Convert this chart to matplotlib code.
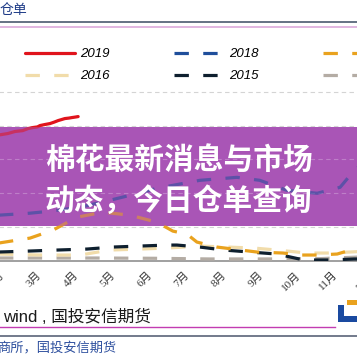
import matplotlib.pyplot as plt
from matplotlib.patches import Rectangle
from matplotlib.lines import Line2D
from matplotlib.transforms import blended_transform_factory

plt.rcParams['font.family'] = ['Liberation Sans', 'Noto Sans CJK SC', 'DejaVu Sans']

# month positions (1 = start of Jan) and receipt counts
m2019 = [1.80, 2.05, 2.24, 2.45, 2.60, 2.73, 2.85, 2.92, 3.05, 3.19, 3.30, 3.41, 3.50, 3.59, 3.70, 3.78, 3.87, 3.95]
v2019 = [18600, 18820, 19118, 19250, 19560, 19706, 19800, 20000, 20150, 20294, 20500, 20735, 20880, 21029, 21100, 21176, 21250, 21324]

m2018 = [1.80, 2.65, 3.19, 4.00, 4.81, 5.50, 6.08, 7.24, 8.24, 8.86, 9.59, 10.41, 11.03, 11.30, 11.55]
v2018 = [6765, 7059, 7353, 7941, 8971, 9900, 10735, 11912, 12353, 11912, 10441, 10000, 10882, 12647, 14000]

m2017 = [1.80, 2.65, 3.27, 3.92, 4.62, 5.35, 6.08, 6.51, 6.89, 7.16, 7.70, 8.14, 8.78, 9.49, 9.95, 10.41, 10.95, 11.41, 11.55]
v2017 = [2647, 3382, 4559, 6471, 7206, 6765, 5735, 4412, 3971, 2794, 2059, 1765, 1324, 1176, 882, 882, 1029, 1765, 2000]

m2016 = [1.80, 2.92, 4.00, 4.81, 5.62, 6.35, 7.24, 7.97, 8.70, 9.32, 10.14, 10.68, 11.30, 11.55]
v2016 = [1029, 882, 882, 1618, 1765, 1912, 2206, 2059, 1912, 1618, 1176, 1176, 1324, 1400]

m2015 = [1.80, 2.65, 3.38, 4.19, 4.89, 5.62, 6.35, 6.62, 7.24, 7.89, 8.59, 9.32, 10.05, 10.76, 11.41, 11.55]
v2015 = [1324, 1471, 1618, 1765, 2059, 2206, 2353, 2353, 2059, 1618, 1324, 1029, 147, 147, 294, 294]

m2014 = [1.80, 3.00, 4.50, 6.00, 7.50, 9.00, 10.50, 11.55]
v2014 = [440, 440, 440, 400, 300, 300, 350, 590]

months = list(range(2, 13))
month_labels = [f'{m}月' for m in months]
grid_values = [0, 5000, 10000, 15000, 20000, 25000]

series = [
    ('2014', m2014, v2014, '#b4aca4', 'dash'),
    ('2016', m2016, v2016, '#f1dcaa', 'dash'),
    ('2015', m2015, v2015, '#0e1f2e', 'dash'),
    ('2017', m2017, v2017, '#e9a21e', 'dash'),
    ('2018', m2018, v2018, '#1f4e9b', 'dash'),
    ('2019', m2019, v2019, '#e0141c', 'solid'),
]

S = 357.0


def fx(px):
    return px / S


def fy(py):
    return 1 - py / S


fig = plt.figure(figsize=(3.57, 3.57), dpi=100)

# axes reach past the left and right edges of the picture (Jan 1 .. mid Dec)
x_left, x_right = -31, 394.5
ax = fig.add_axes([fx(x_left), fy(261), fx(x_right - x_left), fy(91) - fy(261)])
ax.set_xlim(1, 12.5)
ax.set_ylim(0, 25100)
ax.set_facecolor('none')
for s in ['top', 'right', 'left']:
    ax.spines[s].set_visible(False)
ax.spines['bottom'].set_color('#a0a0a0')
ax.spines['bottom'].set_linewidth(1.4)
ax.set_yticks(grid_values)
ax.set_yticklabels([])
ax.tick_params(axis='y', length=0)
ax.grid(axis='y', color='#d4d4d4', linewidth=0.8, dashes=(4, 3))
ax.set_xticks(months)
ax.set_xticklabels(month_labels, rotation=45, ha='right',
                   family=['Liberation Serif', 'Noto Sans CJK SC'], fontsize=8, color='#333333')
ax.tick_params(axis='x', length=0, pad=6)

handles = {}
for name, m, v, col, style in series:
    if style == 'solid':
        ln, = ax.plot(m, v, color=col, linewidth=2.3, zorder=3, solid_capstyle='round')
    else:
        ln, = ax.plot(m, v, color=col, linewidth=2.3, dashes=(4.5, 4.5), zorder=3)
    handles[name] = ln

# purple banner laid over the plot
btrans = blended_transform_factory(ax.transAxes, fig.transFigure)
banner = Rectangle((0, fy(226)), 1, fy(127) - fy(226), transform=btrans,
                   facecolor='#a955b6', edgecolor='none', zorder=5)
ax.add_patch(banner)

# lines showing faintly through the banner
for gv in grid_values:
    g = ax.axhline(gv, color='#ffffff', linewidth=0.8, dashes=(4, 3), alpha=0.25, zorder=6)
    g.set_clip_path(banner)
for name, m, v, col, style in series:
    if style == 'solid':
        ln, = ax.plot(m, v, color=col, linewidth=2.3, alpha=0.55, zorder=6)
    else:
        ln, = ax.plot(m, v, color=col, linewidth=2.3, dashes=(4.5, 4.5), alpha=0.55, zorder=6)
    ln.set_clip_path(banner)

fig.text(fx(45), fy(160), '棉花最新消息与市场', color='white', fontsize=21.4, fontweight='bold',
         family='Noto Sans CJK SC', va='center', ha='left')
fig.text(fx(45), fy(201), '动态，今日仓单查询', color='white', fontsize=21.4, fontweight='bold',
         family='Noto Sans CJK SC', va='center', ha='left')

# legend: rows 2019/2018/2017 and 2016/2015/2014
order = ['2019', '2016', '2018', '2015', '2017', '2014']
fig.legend([handles[k] for k in order], order, ncol=3, loc='upper left',
           bbox_to_anchor=(fx(25), fy(48)), frameon=False, borderpad=0, borderaxespad=0,
           handlelength=3.76, handletextpad=0.4, columnspacing=4.9, labelspacing=0.75,
           prop={'family': 'Liberation Sans', 'style': 'italic', 'size': 9.5})

# header
fig.text(fx(0), fy(10), '仓单', color='#1f3c88', fontsize=10, family='Noto Sans CJK SC',
         va='center', ha='left')
fig.add_artist(Line2D([0, 1], [fy(22), fy(22)], color='#4a5a70', linewidth=1.2))
fig.add_artist(Line2D([0, 1], [fy(26.5), fy(26.5)], color='#dcaadc', linewidth=1.2))

# source lines and logo
fig.text(fx(3), fy(317), 'wind , 国投安信期货', color='#1a1a1a', fontsize=12,
         va='center', ha='left')
fig.add_artist(Line2D([0, fx(335)], [fy(327), fy(327)], color='#c23cb2', linewidth=1.0))
fig.add_artist(Line2D([0, 1], [fy(336), fy(336)], color='#5a6478', linewidth=1.2))
fig.add_artist(Rectangle((fx(338), fy(322)), fx(6), fy(305) - fy(322), transform=fig.transFigure,
                         facecolor='#1a4aa0', edgecolor='none'))
fig.add_artist(Rectangle((fx(338), fy(322)), fx(19), fy(316) - fy(322), transform=fig.transFigure,
                         facecolor='#1a4aa0', edgecolor='none'))
fig.add_artist(Rectangle((fx(347), fy(305)), fx(10), fy(300) - fy(305), transform=fig.transFigure,
                         facecolor='#e9a21e', edgecolor='none'))
fig.text(fx(-3), fy(348), '商所，国投安信期货', color='#2d4f9e', fontsize=9.5,
         family='Noto Sans CJK SC', va='center', ha='left')

fig.savefig('out.png', dpi=100)
